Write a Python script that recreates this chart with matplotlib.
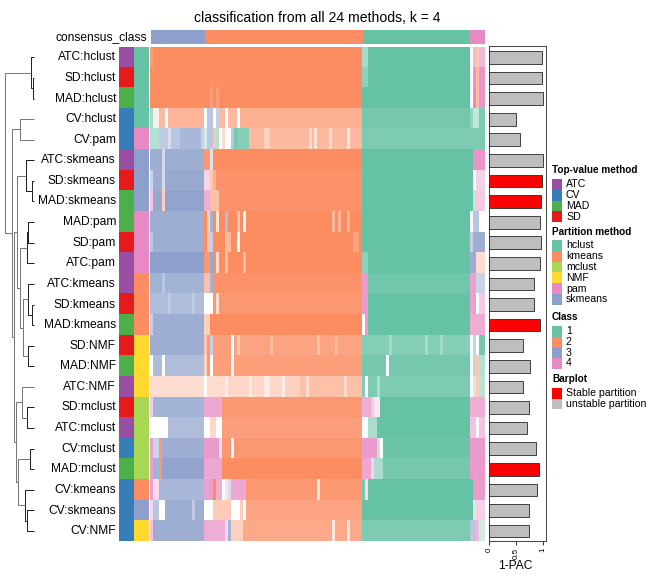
import matplotlib
matplotlib.use("Agg")
import matplotlib.pyplot as plt
import numpy as np
from matplotlib.colors import to_rgb
from matplotlib.patches import Rectangle

plt.rcParams['font.family'] = ['Liberation Sans', 'DejaVu Sans']

# ---------------- data ----------------
top_value = ["ATC", "SD", "MAD", "CV", "CV", "ATC", "SD", "MAD", "MAD", "SD", "ATC", "ATC",
             "SD", "MAD", "SD", "MAD", "ATC", "SD", "ATC", "CV", "MAD", "CV", "CV", "CV"]
partition = ["hclust", "hclust", "hclust", "hclust", "pam", "skmeans", "skmeans", "skmeans",
             "pam", "pam", "pam", "kmeans", "kmeans", "kmeans", "NMF", "NMF", "NMF",
             "mclust", "mclust", "mclust", "mclust", "kmeans", "skmeans", "NMF"]
one_minus_pac = [0.97, 0.97, 1.00, 0.49, 0.56, 0.99, 0.98, 0.96, 0.93, 0.96, 0.93, 0.83,
                 0.83, 0.93, 0.63, 0.75, 0.63, 0.74, 0.69, 0.86, 0.92, 0.88, 0.74, 0.73]
stable = [False, False, False, False, False, False, True, True, False, False, False, False,
          False, True, False, False, False, False, False, False, True, False, False, False]

n_samples = 112
consensus_runs = [(0, 18, 3), (18, 71, 2), (71, 107, 1), (107, 112, 4)]

# (start sample, end sample, class, membership) ; class 0 = no colour
class_runs = [
    # ATC:hclust
    [(0,1,2,.85),(1,71,2,1),(71,73,1,.6),(73,107,1,1),(107,108,0,0),(108,109,4,.6),(109,110,2,.5),(110,112,4,.6)],
    # SD:hclust
    [(0,71,2,1),(71,73,1,.75),(73,107,1,1),(107,108,0,0),(108,109,4,.9),(109,110,2,.6),(110,112,4,.9)],
    # MAD:hclust
    [(0,20,2,1),(20,21,2,.85),(21,22,2,1),(22,23,2,.85),(23,71,2,1),(71,107,1,1),(107,108,0,0),(108,109,4,1),(109,110,2,.6),(110,112,4,.9)],
    # CV:hclust
    [(0,1,1,.6),(1,3,2,.15),(3,5,2,.6),(5,6,0,0),(6,18,2,.65),(18,19,0,0),(19,21,3,.6),(21,22,0,0),(22,23,3,.5),(23,25,2,.6),(25,26,0,0),(26,29,2,.6),(29,30,0,0),(30,71,2,.7),(71,107,1,.9),(107,108,1,.7),(108,110,1,.4),(110,112,1,.85)],
    # CV:pam
    [(0,3,1,.5),(3,6,3,.55),(6,7,3,.35),(7,10,3,.6),(10,17,3,.75),(17,18,3,.5),(18,19,1,.3),(19,21,3,.6),(21,22,2,.5),(22,23,1,.5),(23,24,0,0),(24,25,2,.3),(25,27,0,0),(27,28,3,.6),(28,29,1,.9),(29,33,1,.8),(33,38,2,.6),(38,40,2,.4),(40,53,2,.6),(53,54,2,.3),(54,55,2,.6),(55,56,2,.25),(56,60,2,.6),(60,61,2,.3),(61,66,2,.6),(66,67,2,.2),(67,71,2,.6),(71,112,1,.85)],
    # ATC:skmeans
    [(0,4,3,.85),(4,5,3,.4),(5,18,3,.85),(18,20,2,.9),(20,21,3,.3),(21,71,2,1),(71,108,1,1),(108,112,4,.9)],
    # SD:skmeans
    [(0,1,3,.45),(1,4,3,.85),(4,5,3,.4),(5,18,3,.9),(18,20,4,.35),(20,21,2,.5),(21,22,2,.7),(22,71,2,.95),(71,108,1,1),(108,109,0,0),(109,112,4,.4)],
    # MAD:skmeans
    [(0,1,4,.5),(1,4,3,.9),(4,5,2,.4),(5,18,3,.95),(18,20,4,.7),(20,23,2,.55),(23,71,2,.95),(71,108,1,1),(108,109,1,.4),(109,112,4,.45)],
    # MAD:pam
    [(0,18,3,.85),(18,19,2,1),(19,20,2,.4),(20,21,3,.8),(21,22,2,1),(22,23,2,.25),(23,25,2,1),(25,26,3,.7),(26,29,2,1),(29,30,2,.5),(30,31,2,1),(31,32,0,0),(32,61,2,1),(61,62,2,.6),(62,63,2,1),(63,64,2,.65),(64,66,2,1),(66,67,2,.65),(67,71,2,1),(71,107,1,1),(107,108,0,0),(108,110,3,.6),(110,112,0,0)],
    # SD:pam
    [(0,1,3,.6),(1,18,3,.85),(18,19,2,1),(19,20,2,.5),(20,21,3,.5),(21,25,2,1),(25,27,2,.6),(27,29,2,1),(29,30,0,0),(30,68,2,1),(68,70,2,.8),(70,71,2,1),(71,107,1,1),(107,108,3,.5),(108,112,3,.85)],
    # ATC:pam
    [(0,18,3,1),(18,20,2,.9),(20,21,3,.9),(21,22,2,1),(22,23,2,.3),(23,25,2,1),(25,26,2,.55),(26,31,2,1),(31,32,2,.6),(32,71,2,1),(71,73,1,.75),(73,107,1,1),(107,109,3,.85),(109,112,2,.3)],
    # ATC:kmeans
    [(0,4,3,.8),(4,5,3,.6),(5,18,3,.8),(18,20,2,.55),(20,21,3,.8),(21,71,2,.95),(71,73,4,.85),(73,107,1,.92),(107,109,4,.8),(109,112,3,.45)],
    # SD:kmeans
    [(0,6,3,.7),(6,7,3,.55),(7,14,3,.7),(14,15,3,.55),(15,18,3,.7),(18,21,0,0),(21,22,2,.9),(22,23,2,.3),(23,71,2,.9),(71,73,4,.85),(73,107,1,1),(107,109,4,.8),(109,110,0,0),(110,112,4,.45)],
    # MAD:kmeans
    [(0,1,3,.5),(1,18,3,.85),(18,20,2,.4),(20,71,2,1),(71,72,0,0),(72,73,4,.85),(73,107,1,1),(107,112,4,.7)],
    # SD:NMF
    [(0,18,3,.85),(18,19,2,.5),(19,20,2,.9),(20,21,3,.5),(21,27,2,.85),(27,28,0,0),(28,29,2,.8),(29,30,2,.45),(30,40,2,.8),(40,41,2,.6),(41,56,2,.8),(56,57,2,.55),(57,62,2,.8),(62,63,2,.6),(63,71,2,.8),(71,80,1,.8),(80,81,1,.6),(81,92,1,.8),(92,93,1,.6),(93,97,1,.8),(97,98,1,.6),(98,107,1,.8),(107,108,0,0),(108,109,1,.5),(109,110,0,0),(110,112,1,.9)],
    # MAD:NMF
    [(0,1,0,0),(1,4,3,.7),(4,5,0,0),(5,18,3,.7),(18,19,2,.4),(19,20,2,.9),(20,21,0,0),(21,27,2,.85),(27,28,0,0),(28,71,2,.85),(71,79,1,.9),(79,80,0,0),(80,107,1,.9),(107,108,0,0),(108,109,1,.5),(109,110,2,.5),(110,112,1,.5)],
    # ATC:NMF
    [(0,18,2,.3),(18,19,0,0),(19,25,2,.3),(25,26,2,.15),(26,33,2,.35),(33,34,2,.15),(34,38,2,.35),(38,40,2,.15),(40,44,2,.35),(44,45,2,.15),(45,50,2,.4),(50,52,2,.55),(52,53,2,.3),(53,65,2,.55),(65,66,2,.3),(66,71,2,.55),(71,72,1,.8),(72,73,0,0),(73,76,1,.85),(76,77,1,.55),(77,107,1,.85),(107,108,0,0),(108,109,1,.3),(109,110,2,.45),(110,112,1,.45)],
    # SD:mclust
    [(0,1,4,.45),(1,18,3,.8),(18,24,4,.75),(24,71,2,.9),(71,74,4,.7),(74,75,4,.45),(75,77,4,.2),(77,107,1,1),(107,112,4,.7)],
    # ATC:mclust
    [(0,6,0,0),(6,18,3,.7),(18,20,0,0),(20,22,2,.35),(22,24,0,0),(24,71,2,.85),(71,73,0,0),(73,76,1,.55),(76,107,1,1),(107,109,4,.5),(109,110,0,0),(110,112,4,.5)],
    # CV:mclust
    [(0,1,4,.8),(1,3,3,.45),(3,4,2,.9),(4,18,3,.85),(18,23,4,.85),(23,24,4,.3),(24,27,2,.9),(27,28,0,0),(28,71,2,.9),(71,76,4,.85),(76,77,1,.4),(77,78,0,0),(78,107,1,.95),(107,112,4,.85)],
    # MAD:mclust
    [(0,1,4,.8),(1,3,3,.8),(3,4,2,.9),(4,18,3,.95),(18,24,4,.75),(24,71,2,1),(71,74,4,.75),(74,75,4,.35),(75,78,1,.55),(78,107,1,.9),(107,112,4,.85)],
    # CV:kmeans
    [(0,1,4,.8),(1,3,4,.3),(3,18,3,.75),(18,21,4,.8),(21,22,2,1),(22,24,4,.7),(24,25,0,0),(25,26,4,.25),(26,27,3,.35),(27,32,4,.75),(32,56,2,.9),(56,57,2,.2),(57,71,2,.9),(71,72,1,.9),(72,73,4,.3),(73,108,1,1),(108,112,4,.85)],
    # CV:skmeans
    [(0,1,4,.35),(1,3,3,.6),(3,5,0,0),(5,14,3,.85),(14,15,3,.55),(15,18,3,.85),(18,21,0,0),(21,27,2,.45),(27,30,0,0),(30,31,2,.45),(31,32,0,0),(32,71,2,.8),(71,108,1,1),(108,109,1,.3),(109,112,4,.4)],
    # CV:NMF
    [(0,1,4,.5),(1,18,3,.85),(18,25,4,.7),(25,26,4,.3),(26,27,3,.8),(27,31,2,.4),(31,61,2,.75),(61,62,2,.2),(62,66,2,.75),(66,67,2,.2),(67,71,2,.75),(71,107,1,.85),(107,109,3,.6),(109,110,4,.6),(110,112,1,.3)],
]

# dendrogram merges: (child a, child b, merge position in px from left); ids >= 24 are earlier merges
merges = [
    (1, 2, 33), (0, 24, 31), (3, 4, 20), (6, 7, 32), (5, 27, 26), (8, 9, 27.5),
    (29, 10, 27), (12, 13, 32), (11, 31, 28), (14, 15, 28), (17, 18, 27), (16, 34, 22),
    (19, 20, 30), (22, 23, 27), (21, 37, 25), (32, 33, 23), (30, 39, 20), (28, 40, 17),
    (36, 38, 18), (35, 42, 16), (41, 43, 14), (26, 44, 12), (25, 45, 5),
]

# ---------------- colours ----------------
class_col = {1: "#66C2A5", 2: "#FC8D62", 3: "#8DA0CB", 4: "#E78AC3"}
top_col = {"ATC": "#984EA3", "CV": "#377EB8", "MAD": "#4DAF4A", "SD": "#E41A1C"}
part_col = {"hclust": "#66C2A5", "kmeans": "#FC8D62", "mclust": "#A6D854",
            "NMF": "#FFD92F", "pam": "#E78AC3", "skmeans": "#8DA0CB"}

W, H = 648, 576
fig = plt.figure(figsize=(9, 8), dpi=72)
n_rows = len(top_value)
Y0, Y1 = 47, 541.4
row_h = (Y1 - Y0) / n_rows


def px_axes(x0, y0, x1, y1, z=1):
    ax = fig.add_axes([x0 / W, 1 - y1 / H, (x1 - x0) / W, (y1 - y0) / H], zorder=z)
    return ax


def blend(c, m):
    r = np.array(to_rgb(c))
    return 1 - m * (1 - r)

# heatmap
img = np.ones((n_rows, n_samples, 3))
for i, runs in enumerate(class_runs):
    for s, e, k, m in runs:
        if k == 0:
            continue
        img[i, s:e, :] = blend(class_col[k], m)
ax = px_axes(150, Y0, 485, Y1)
ax.imshow(img, aspect="auto", interpolation="nearest", extent=(0, n_samples, n_rows, 0))
ax.set_xlim(0, n_samples); ax.set_ylim(n_rows, 0); ax.axis("off")

# consensus row
cimg = np.ones((1, n_samples, 3))
for s, e, k in consensus_runs:
    cimg[0, s:e, :] = to_rgb(class_col[k])
axc = px_axes(151, 30, 485, 44)
axc.imshow(cimg, aspect="auto", interpolation="nearest", extent=(0, n_samples, 1, 0))
axc.axis("off")

# annotation columns
for x0, x1, vals, cmap in [(119, 133.3, top_value, top_col), (134.3, 148.7, partition, part_col)]:
    a = np.array([[to_rgb(cmap[v])] for v in vals])
    axa = px_axes(x0, Y0, x1, Y1)
    axa.imshow(a, aspect="auto", interpolation="nearest", extent=(0, 1, n_rows, 0))
    axa.axis("off")

# dendrogram
axd = px_axes(0, Y0, 110, Y1)
axd.set_xlim(0, 110); axd.set_ylim(n_rows, 0); axd.axis("off")
pos = {i: (34.0, i + 0.5) for i in range(n_rows)}
for j, (a, b, xh) in enumerate(merges):
    xa, ya = pos[a]; xb, yb = pos[b]
    col = "#222222" if xh >= 24 else "#777777"
    axd.plot([xa, xh, xh, xb], [ya, ya, yb, yb], color=col, lw=1.0, solid_capstyle="butt")
    pos[n_rows + j] = (xh, (ya + yb) / 2)

# barplot
axb = px_axes(489.3, 46, 546, Y1)
yy = np.arange(n_rows) + 0.5
axb.barh(yy, one_minus_pac, height=0.62,
         color=["#FF0000" if s else "#BEBEBE" for s in stable], edgecolor="#333333", linewidth=0.9)
axb.set_ylim(n_rows, -0.05)
axb.set_xlim(0, 1.05)
axb.set_yticks([])
axb.set_xticks([0, 0.5, 1])
axb.set_xticklabels(["0", "0.5", "1"], rotation=90, fontsize=8)
axb.tick_params(axis="x", length=4, width=0.8, pad=2)
for sp in axb.spines.values():
    sp.set_linewidth(0.9); sp.set_color("#333333")

# overlay for texts and legends
ov = fig.add_axes([0, 0, 1, 1], zorder=5)
ov.set_xlim(0, W); ov.set_ylim(H, 0); ov.axis("off")
ov.patch.set_alpha(0)

ov.text(317.5, 18, "classification from all 24 methods, k = 4", ha="center", va="center", fontsize=14)
ov.text(147, 37, "consensus_class", ha="right", va="center", fontsize=12)
for i in range(n_rows):
    ov.text(116, Y0 + (i + 0.5) * row_h, f"{top_value[i]}:{partition[i]}", ha="right", va="center", fontsize=12)
ov.text(515, 566, "1-PAC", ha="center", va="center", fontsize=12)

legend_groups = [
    ("Top-value method", 170, 179, [(k, top_col[k]) for k in ["ATC", "CV", "MAD", "SD"]]),
    ("Partition method", 232, 240, [(k, part_col[k]) for k in ["hclust", "kmeans", "mclust", "NMF", "pam", "skmeans"]]),
    ("Class", 317, 325.7, [(str(k), class_col[k]) for k in [1, 2, 3, 4]]),
    ("Barplot", 379, 387.7, [("Stable partition", "#FF0000"), ("unstable partition", "#BEBEBE")]),
]
step = 10.8
for title, ty, sy, items in legend_groups:
    ov.text(552, ty, title, ha="left", va="center", fontsize=10, fontweight="bold")
    for j, (lab, c) in enumerate(items):
        y = sy + j * step
        ov.add_patch(Rectangle((552, y), 10, step, facecolor=c, edgecolor="none"))
        ov.text(566, y + step / 2, lab, ha="left", va="center", fontsize=10.5)

fig.savefig("out.png", dpi=72)
